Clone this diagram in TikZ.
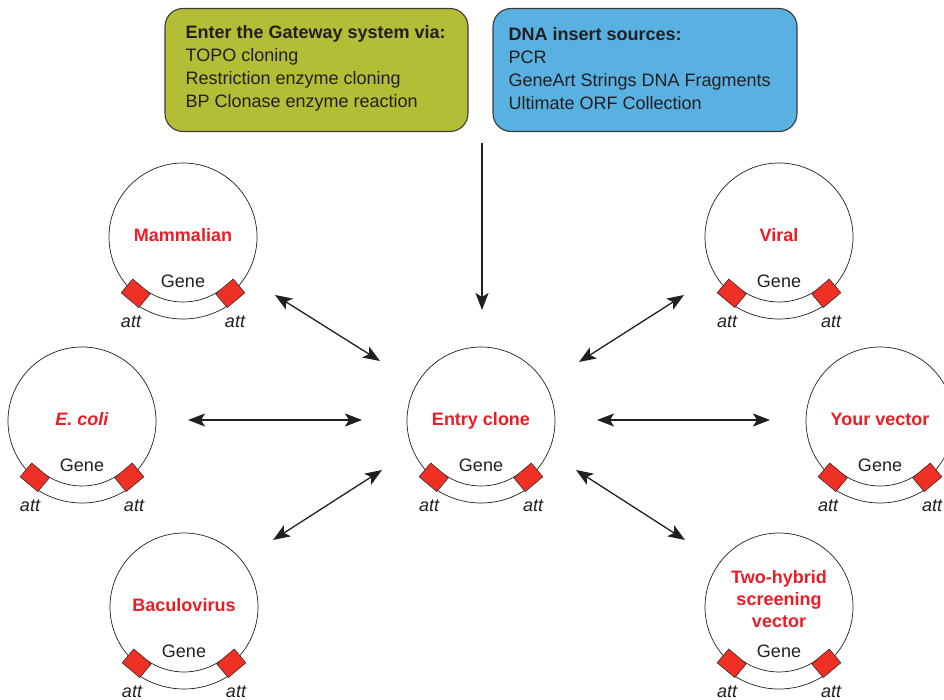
\documentclass[tikz,border=0pt]{standalone}
\usepackage{fontspec}
\setmainfont{Liberation Sans}
\usetikzlibrary{arrows.meta,calc}
\definecolor{gwgreen}{HTML}{B3BD35}
\definecolor{gwblue}{HTML}{59B1E2}
\definecolor{gwred}{HTML}{EE3124}
\definecolor{lblred}{HTML}{ED1C24}
\definecolor{ink}{HTML}{231F20}
\definecolor{boxline}{HTML}{3A3A3A}

\tikzset{
  ring/.style={draw=ink, line width=0.7pt},
  band/.style={fill=white},
  attbox/.style={fill=gwred, draw=ink, line width=0.5pt},
  plabel/.style={text=lblred, font=\fontsize{18}{22}\selectfont\bfseries, align=center, inner sep=0pt},
  gene/.style={text=ink, font=\fontsize{18}{22}\selectfont, inner sep=0pt},
  attlbl/.style={text=ink, font=\fontsize{18}{22}\selectfont\itshape, inner sep=0pt},
  infobox/.style={draw=boxline, line width=1.1pt, rounded corners=18pt, minimum height=123pt},
  infotext/.style={text=ink, font=\fontsize{18}{23}\selectfont, align=left, inner sep=0pt, anchor=west},
  dbl/.style={draw=ink, line width=1.3pt, {Stealth[length=17pt,width=13pt,inset=4pt]}-{Stealth[length=17pt,width=13pt,inset=4pt]}},
  sgl/.style={draw=ink, line width=2pt, -{Stealth[length=17pt,width=13pt,inset=4pt]}}
}

\newcommand{\attmark}[1]{%
  \filldraw[attbox] ($(#1:73.5)+(#1:9)+(#1+90:11.5)$) -- ($(#1:73.5)+(#1:9)+(#1-90:11.5)$)
    -- ($(#1:73.5)+(#1+180:9)+(#1-90:11.5)$) -- ($(#1:73.5)+(#1+180:9)+(#1+90:11.5)$) -- cycle;}

\newcommand{\plasmid}[5]{%
\begin{scope}[shift={(#2,#3)}]
  \coordinate (#1) at (0,0);
  \draw[ring] (0,0) circle[radius=74];
  \path[band] (55:65) arc[start angle=55,end angle=125,radius=65] -- (125:82) arc[start angle=125,end angle=55,radius=82] -- cycle;
  \draw[ring] (55:65) arc[start angle=55,end angle=125,radius=65];
  \draw[ring] (55:82) arc[start angle=55,end angle=125,radius=82];
  \attmark{130}
  \attmark{50}
  \node[plabel] (#1-name) at (0,#5) {#4};
  \node[gene] (#1-gene) at (0,44) {Gene};
  \node[attlbl] (#1-attl) at (-52,85) {att};
  \node[attlbl] (#1-attr) at (52,85) {att};
\end{scope}}

\begin{document}
\begin{tikzpicture}[x=1pt,y=-1pt]
\useasboundingbox (0,0) rectangle (944,700);

% top boxes
\node[infobox, fill=gwgreen, minimum width=303pt] (enter) at (316.5,70) {};
\node[infotext] (entertxt) at ([xshift=21pt,yshift=1.5pt]enter.west)
  {\textbf{Enter the Gateway system via:}\\TOPO cloning\\Restriction enzyme cloning\\BP Clonase enzyme reaction};
\node[infobox, fill=gwblue, minimum width=304pt] (dna) at (645,70) {};
\node[infotext] (dnatxt) at ([xshift=16pt,yshift=1.5pt]dna.west)
  {\textbf{DNA insert sources:}\\PCR\\GeneArt Strings DNA Fragments\\Ultimate ORF Collection};

% plasmids
\plasmid{mam}{183}{237}{Mammalian}{-2}
\plasmid{eco}{82}{421}{\itshape E. coli}{-2}
\plasmid{bac}{184}{607}{Baculovirus}{-2}
\plasmid{ent}{481}{421}{Entry clone}{0}
\plasmid{vir}{779}{237}{Viral}{-2}
\plasmid{your}{880}{421}{Your vector}{-1.5}
\plasmid{two}{779}{607}{Two-hybrid\\screening\\vector}{-8}

% arrow end points
\coordinate (v1) at (482,143);
\coordinate (v2) at (482,310);
\coordinate (a1) at (275,295);
\coordinate (a2) at (380,361);
\coordinate (b1) at (188,420);
\coordinate (b2) at (362,420);
\coordinate (c1) at (273,540);
\coordinate (c2) at (382,470);
\coordinate (d1) at (684,295);
\coordinate (d2) at (579,362);
\coordinate (e1) at (597,420);
\coordinate (e2) at (770,420);
\coordinate (f1) at (576,470);
\coordinate (f2) at (685,540);

\draw[sgl] (v1) -- (v2);
\draw[dbl] (a1) -- (a2);
\draw[dbl] (b1) -- (b2);
\draw[dbl] (c1) -- (c2);
\draw[dbl] (d1) -- (d2);
\draw[dbl] (e1) -- (e2);
\draw[dbl] (f1) -- (f2);
\end{tikzpicture}
\end{document}
